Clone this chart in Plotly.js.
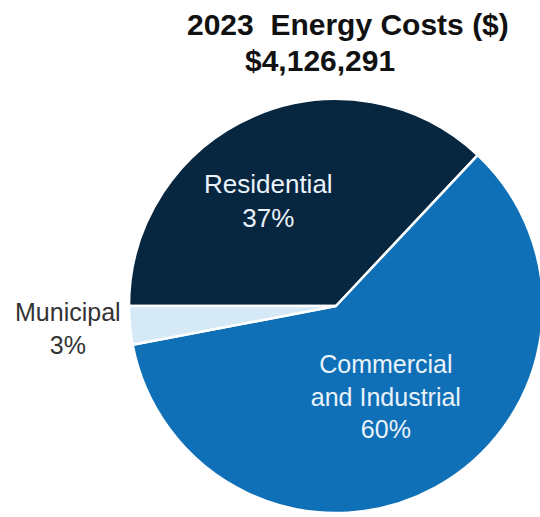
<!DOCTYPE html>
<html>
<head>
<meta charset="utf-8">
<script src="https://cdn.plot.ly/plotly-3.0.1.min.js"></script>
<style>
html,body{margin:0;padding:0;background:#fff;overflow:hidden;}
#chart{width:550px;height:517px;}
</style>
</head>
<body>
<div id="chart"></div>
<script>
var categories = ['Residential', 'Commercial<br>and Industrial', 'Municipal'];
var values = [37, 60, 3];
var colors = ['#072640', '#0f70b7', '#d5e9f7'];
var titleLine1 = '2023  Energy Costs ($)';
var titleLine2 = '$4,126,291';

var total = values.reduce(function (a, b) { return a + b; }, 0);
function pct(i) { return Math.round(values[i] / total * 100) + '%'; }

var FONT = 'Liberation Sans, Arial, sans-serif';

var trace = {
  type: 'pie',
  labels: categories,
  values: values,
  sort: false,
  direction: 'clockwise',
  rotation: -90,
  marker: {colors: colors, line: {color: '#ffffff', width: 2.5}},
  texttemplate: ['', '%{label}<br>%{percent:.0%}', ''],
  textposition: ['none', 'inside', 'none'],
  insidetextorientation: 'horizontal',
  textfont: {family: FONT, size: 25, color: '#eaf2fa'},
  hoverinfo: 'none',
  showlegend: false,
  domain: {x: [0.2345, 0.9873], y: [0.0077, 0.8085]}
};

var layout = {
  width: 550,
  height: 517,
  margin: {l: 0, r: 0, t: 0, b: 0},
  paper_bgcolor: '#ffffff',
  showlegend: false,
  annotations: [
    {text: '<b>' + titleLine1 + '</b>', xref: 'paper', yref: 'paper', x: 348/550, y: 1 - 24/517, xanchor: 'center', yanchor: 'middle', showarrow: false,
     font: {family: FONT, size: 30, color: '#111111'}},
    {text: '<b>' + titleLine2 + '</b>', xref: 'paper', yref: 'paper', x: 320/550, y: 1 - 61/517, xanchor: 'center', yanchor: 'middle', showarrow: false,
     font: {family: FONT, size: 30, color: '#111111'}},
    {text: categories[0] + '<br>' + pct(0), xref: 'paper', yref: 'paper', x: 268/550, y: 1 - 201/517, xanchor: 'center', yanchor: 'middle', showarrow: false,
     font: {family: FONT, size: 26, color: '#eaf2fa'}},
    {text: categories[2] + '<br>' + pct(2), xref: 'paper', yref: 'paper', x: 68/550, y: 1 - 328/517, xanchor: 'center', yanchor: 'middle', showarrow: false,
     font: {family: FONT, size: 25, color: '#333333'}}
  ]
};

Plotly.newPlot('chart', [trace], layout, {displayModeBar: false, staticPlot: true});
</script>
</body>
</html>
